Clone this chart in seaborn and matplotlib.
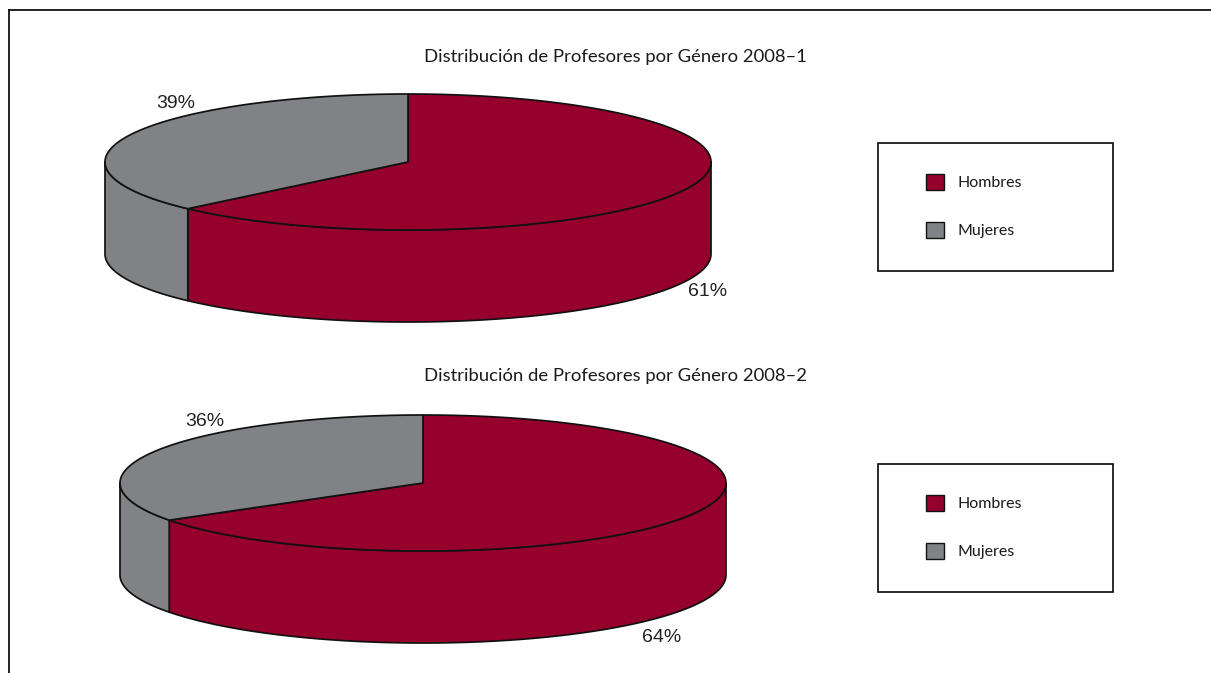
import numpy as np
import matplotlib
matplotlib.use('Agg')
import matplotlib.pyplot as plt
from matplotlib.patches import Polygon, Rectangle, Patch
import seaborn as sns

# data
titles = ['Distribución de Profesores por Género 2008–1',
          'Distribución de Profesores por Género 2008–2']
categories = ['Hombres', 'Mujeres']
hombres = [61, 64]
mujeres = [39, 36]

# layout, in pixels of the picture
centers = [(408, 162), (423, 483)]
RX, RY, DEPTH = 303, 68, 92
SWEEP = 0.95  # the 3d view squeezes the wedge angle a bit
title_y = [57, 376]
label_h = [(708, 292), (662, 637)]
label_m = [(176, 103), (205, 422)]
legend_box = [(878, 143), (878, 464)]
BOX_W, BOX_H = 235, 128

sns.set_theme(style='white')
palette = sns.color_palette(['#95002D', '#808285'])
LINE = '#111111'

fig = plt.figure(figsize=(12.11, 6.73), dpi=100)
ax = fig.add_axes([8.5 / 1211, 0, 1 - 8.5 / 1211, 1 - 10 / 673])
ax.set_xlim(8.5, 1211)
ax.set_ylim(673, 10)
ax.set_xticks([])
ax.set_yticks([])
sns.despine(ax=ax, top=False, left=False, right=True, bottom=True)
for side in ['top', 'left']:
    ax.spines[side].set_color(LINE)
    ax.spines[side].set_linewidth(1.3)


def rim(cx, cy, start, end, drop=0):
    t = np.radians(np.linspace(start, end, 200))
    return np.column_stack([cx + RX * np.sin(t), cy - RY * np.cos(t) + drop])


def draw_pie(cx, cy, men, women):
    split = 360 - women * 3.6 * SWEEP
    # walls, only the front half shows
    for (a, b), color in [((90, split), palette[0]), ((split, 270), palette[1])]:
        top = rim(cx, cy, a, b)
        low = rim(cx, cy, a, b, DEPTH)[::-1]
        ax.add_patch(Polygon(np.vstack([top, low]), closed=True, fc=color,
                             ec=LINE, lw=1.25, joinstyle='round'))
    # top face
    for (a, b), color in [((0, split), palette[0]), ((split, 360), palette[1])]:
        pts = np.vstack([[(cx, cy)], rim(cx, cy, a, b)])
        ax.add_patch(Polygon(pts, closed=True, fc=color, ec=LINE, lw=1.25,
                             joinstyle='round'))


for i in range(2):
    cx, cy = centers[i]
    draw_pie(cx, cy, hombres[i], mujeres[i])
    ax.text(615.5, title_y[i], titles[i], ha='center', va='center',
            fontsize=13.3, family='Lato', color='#1a1a1a')
    ax.text(*label_h[i], f'{hombres[i]}%', ha='center', va='center',
            fontsize=14, family='Liberation Sans', color='#222222')
    ax.text(*label_m[i], f'{mujeres[i]}%', ha='center', va='center',
            fontsize=14, family='Liberation Sans', color='#222222')

    bx, by = legend_box[i]
    ax.add_patch(Rectangle((bx, by), BOX_W, BOX_H, fc='white', ec=LINE, lw=1.25))
    handles = [Patch(fc=palette[k], ec=LINE, lw=1.0, label=categories[k]) for k in range(2)]
    leg = ax.legend(handles=handles, loc='upper left', frameon=False,
                    bbox_to_anchor=((bx + 48 - 8.5) / (1211 - 8.5), 1 - (by + 31 - 10) / (673 - 10)),
                    borderaxespad=0, borderpad=0, prop={'family': 'Lato', 'size': 11.5},
                    handlelength=1.125, handleheight=1.125, handletextpad=0.82, labelspacing=2.0)
    for t in leg.get_texts():
        t.set_color('#1a1a1a')
    ax.add_artist(leg)
    ax.legend_ = None

fig.savefig('out.png', dpi=100)
